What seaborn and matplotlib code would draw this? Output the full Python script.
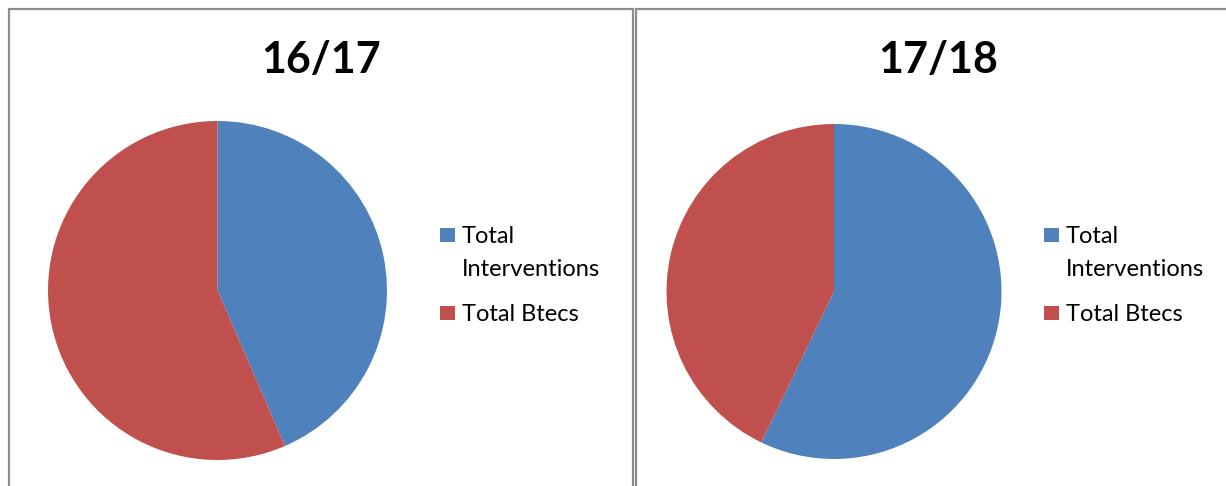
import matplotlib.pyplot as plt
import seaborn as sns
from matplotlib.patches import Rectangle

# Data
years = ['16/17', '17/18']
categories = ['Total Interventions', 'Total Btecs']
values_1617 = [10, 13]
values_1718 = [12, 9]
colors = ['#4F81BD', '#C0504D']

sns.set_style("white")
plt.rcParams['font.family'] = ['Lato', 'DejaVu Sans']
plt.rcParams['text.color'] = 'black'

W, H = 1226, 486
fig = plt.figure(figsize=(W / 100, H / 100), dpi=100)


def fx(x):
    return x / W


def fy(y):
    return 1 - y / H


# panel borders
for x0, x1 in [(8.5, 632.5), (636.5, 1240)]:
    fig.patches.append(Rectangle((fx(x0), fy(520)), fx(x1 - x0), (520 - 9) / H,
                                 transform=fig.transFigure, fill=False,
                                 edgecolor='#8c8c8c', linewidth=1.6))

panels = [
    (years[0], values_1617, (217.5, 290.5, 169.5), 321, 440),
    (years[1], values_1718, (834, 291.5, 167.5), 938, 1044),
]

for title, vals, (cx, cy, r), tx, lx in panels:
    ax = fig.add_axes([fx(cx - r), fy(cy + r), 2 * r / W, 2 * r / H])
    ax.pie(vals, colors=colors, startangle=90, counterclock=False,
           wedgeprops=dict(linewidth=0))
    ax.set_xlim(-1, 1)
    ax.set_ylim(-1, 1)
    ax.set_aspect('auto')
    ax.axis('off')
    fig.text(fx(tx), fy(60), title, ha='center', va='center',
             fontsize=31, fontweight='bold')

    # legend, wrapped like the original
    first, second = categories[0].split(' ', 1)
    rows = [(colors[0], [(first, 243), (second, 276)]),
            (colors[1], [(categories[1], 321)])]
    for c, lines in rows:
        base = lines[0][1]
        fig.patches.append(Rectangle((fx(lx), fy(base - 1)), 15 / W, 14 / H,
                                     transform=fig.transFigure,
                                     facecolor=c, edgecolor='none'))
        for txt, y in lines:
            fig.text(fx(lx + 22), fy(y), txt, ha='left', va='baseline',
                     fontsize=17)

fig.savefig('out.png', dpi=100)
